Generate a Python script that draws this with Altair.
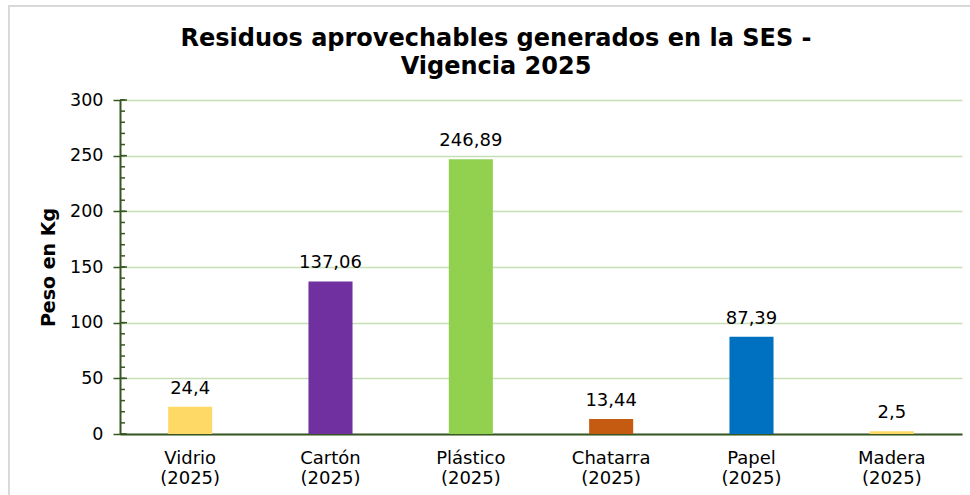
import altair as alt
import pandas as pd

names = ["Vidrio", "Cartón", "Plástico", "Chatarra", "Papel", "Madera"]
year = "2025"
values = [24.4, 137.06, 246.89, 13.44, 87.39, 2.5]
value_labels = ["24,4", "137,06", "246,89", "13,44", "87,39", "2,5"]
colors = ["#FFD966", "#7030A0", "#92D050", "#C55A11", "#0070C0", "#FFD966"]
y_ticks = [0, 50, 100, 150, 200, 250, 300]
minor_ticks = [0, 10, 20, 30, 40, 50, 60, 70, 80, 90, 100, 110, 120, 130, 140, 150,
               160, 170, 180, 190, 200, 210, 220, 230, 240, 250, 260, 270, 280, 290, 300]
title_lines = ["Residuos aprovechables generados en la SES -", "Vigencia 2025"]

categories = [f"{n}\n({year})" for n in names]
df = pd.DataFrame({"cat": categories, "value": values, "label": value_labels})
minor_df = pd.DataFrame({"value": minor_ticks})
major_df = pd.DataFrame({"value": y_ticks})

FONT = "DejaVu Sans"
AXIS_GREEN = "#375623"

x_enc = alt.X(
    "cat:N",
    sort=categories,
    scale=alt.Scale(paddingInner=0.686, paddingOuter=0.343),
    axis=alt.Axis(
        title=None, labelAngle=0, labelExpr="split(datum.label, '\\n')",
        labelFontSize=18, labelColor="black", labelLineHeight=20, labelFont=FONT,
        ticks=False, domainColor=AXIS_GREEN, domainWidth=2, labelPadding=15, grid=False,
    ),
)
y_enc = alt.Y(
    "value:Q",
    scale=alt.Scale(domain=[0, 300], nice=False),
    axis=alt.Axis(
        values=y_ticks, title="Peso en Kg", titleFontSize=19, titleFontWeight="bold",
        titleColor="black", titleFont=FONT, labelFont=FONT,
        labelFontSize=17.5, labelColor="black", tickColor=AXIS_GREEN, tickSize=7, tickWidth=1.5,
        domainColor=AXIS_GREEN, domainWidth=2, gridColor="#c6e0b4", gridWidth=1.5,
        labelPadding=10, titlePadding=11,
    ),
)

bars = alt.Chart(df).mark_bar().encode(
    x=x_enc,
    y=y_enc,
    color=alt.Color("cat:N", scale=alt.Scale(domain=categories, range=colors), legend=None),
)

text = alt.Chart(df).mark_text(
    dy=-13, baseline="alphabetic", fontSize=18, font=FONT, color="black"
).encode(x=alt.X("cat:N", sort=categories), y=alt.Y("value:Q"), text="label:N")

minor = alt.Chart(minor_df).mark_rule(color=AXIS_GREEN, strokeWidth=1.5).encode(
    y=alt.Y("value:Q"), x=alt.value(0), x2=alt.value(5)
)
major = alt.Chart(major_df).mark_rule(color=AXIS_GREEN, strokeWidth=1.5).encode(
    y=alt.Y("value:Q"), x=alt.value(0), x2=alt.value(7)
)

frame = alt.Chart(pd.DataFrame({"f": [0]})).mark_rect(
    fill="transparent", stroke="#d9d9d9", strokeWidth=2
).encode(x=alt.value(-111), x2=alt.value(880), y=alt.value(-94), y2=alt.value(420))

title = alt.Chart(pd.DataFrame({"t": [0]})).mark_text(
    text=title_lines, fontSize=24, fontWeight="bold", font=FONT, color="black",
    lineHeight=28, baseline="middle", align="center",
).encode(x=alt.value(376), y=alt.value(-61))

chart = alt.layer(frame, bars, text, minor, major, title).properties(
    width=842,
    height=334,
    autosize=alt.AutoSizeParams(type="none"),
    padding={"left": 120, "top": 100, "right": 8, "bottom": 61},
).configure(background="white", font=FONT, view=alt.ViewConfig(stroke="transparent"))

chart.save("out.html", embed_options={"renderer": "svg", "actions": False})
